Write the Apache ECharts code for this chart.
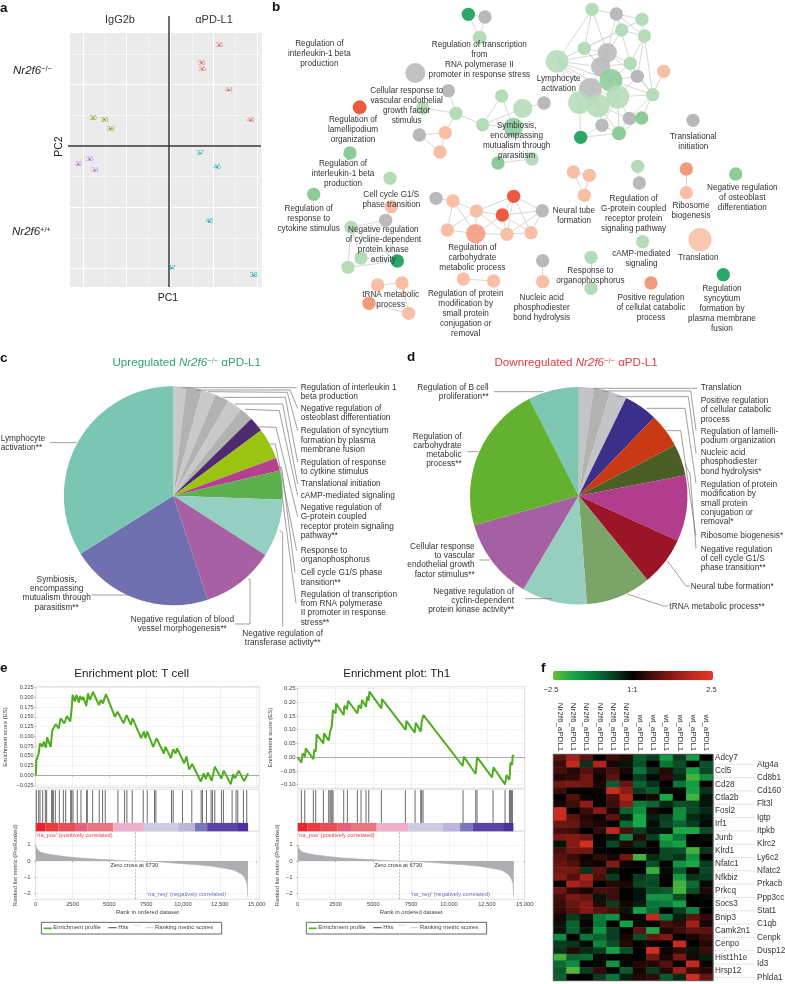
<!DOCTYPE html>
<html><head><meta charset="utf-8">
<style>html,body{margin:0;padding:0;background:#fff}#c{width:785px;height:984px}</style>
<script src="https://cdn.jsdelivr.net/npm/echarts@6/dist/echarts.min.js"></script>
</head><body><div id="c"></div>
<script>
const FONT='"Liberation Sans",Arial,sans-serif';
// ---------- panel a: PCA ----------
const pcaRed=[[1.13,1.64,36],[.72,1.36,36],[.74,1.25,36],[1.35,.91,44],[1.85,.42,46]];
const pcaGreen=[[-1.77,.45,36],[-1.51,.43,30],[-1.37,.28,39]];
const pcaPurple=[[-1.85,-.22,36],[-2.11,-.30,36],[-1.73,-.40,34]];
const pcaCyan=[[.69,-.12,37],[1.08,-.34,46],[.90,-1.23,46],[.04,-1.99,47],[1.92,-2.11,38]];
const pc1Major=[-2,-1,0,1,2], pc1Minor=[-1.5,-.5,.5,1.5];
const pc2Major=[1,0,-1,-2], pc2Minor=[1.5,.5,-.5,-1.5];
// ---------- panel b: network ----------
const nodeColors={G:'#2aa866',g:'#b5dcb9',m:'#8bcc97',y:'#b9b9bb',o:'#f9bfa6',O:'#f49a7c',R:'#ec5b3f'};
const nodes=[[595,43,40,'G'],[645,51,40,'y'],[629,113,42,'g'],[966,28,40,'g'],[1039,42,40,'y'],[1116,58,40,'g'],[1055,90,40,'g'],[1123,108,40,'g'],[943,145,40,'g'],[1012,158,58,'y'],[861,184,68,'g'],[1081,190,40,'g'],[992,200,58,'y'],[1023,241,68,'m'],[1102,229,40,'y'],[1181,214,40,'o'],[961,268,68,'y'],[1148,284,40,'g'],[1043,291,70,'g'],[928,308,68,'g'],[984,317,70,'g'],[1078,355,40,'y'],[1115,354,40,'m'],[996,376,40,'y'],[932,412,40,'G'],[1047,400,42,'m'],
[436,219,60,'y'],[535,272,40,'y'],[458,324,40,'g'],[558,340,40,'g'],[695,288,40,'g'],[758,325,58,'g'],[822,309,40,'y'],[638,374,40,'g'],[730,382,58,'m'],[526,398,40,'o'],[448,405,40,'y'],[510,456,40,'o'],[684,489,40,'m'],[786,477,40,'g'],
[269,322,42,'R'],[240,459,40,'m'],[360,535,40,'g'],[131,583,40,'m'],[364,620,40,'o'],[347,661,40,'y'],[243,682,40,'g'],[273,774,40,'g'],[234,802,40,'g'],[382,783,40,'G'],
[498,595,40,'y'],[549,603,40,'o'],[619,633,40,'o'],[731,589,40,'R'],[697,645,40,'R'],[817,632,40,'y'],[532,690,40,'o'],[617,701,58,'O'],[711,703,40,'o'],[783,698,40,'o'],
[910,516,40,'o'],[958,526,40,'o'],[943,586,40,'o'],[1103,499,40,'g'],[1108,549,40,'y'],[1249,507,40,'O'],[1249,578,40,'o'],[1397,522,40,'m'],[1269,361,40,'y'],[1118,725,40,'g'],[1290,719,70,'o'],[1360,824,40,'G'],[1143,849,40,'O'],[963,772,40,'g'],[963,865,40,'g'],[818,782,40,'y'],[818,845,40,'o'],[580,837,40,'o'],[671,843,40,'o'],[323,855,40,'o'],[396,849,40,'o'],[297,910,40,'O'],[416,940,40,'o']];
const links=[[0,1],[1,2],[0,2],[3,4],[3,8],[3,10],[3,9],[4,5],[4,6],[4,7],[4,9],[4,11],[5,7],[5,6],[6,7],[6,9],[6,8],[7,11],[7,14],[7,17],[8,10],[8,9],[8,12],[8,6],[8,13],[9,10],[9,12],[9,13],[9,11],[9,14],[10,12],[10,13],[10,16],[10,19],[10,20],[10,18],[11,13],[11,14],[11,12],[11,17],[12,13],[12,16],[12,18],[13,14],[13,17],[13,18],[14,17],[14,18],[15,17],[16,18],[16,19],[16,20],[17,18],[17,21],[17,22],[18,20],[18,21],[18,25],[18,23],[19,24],[19,20],[20,23],[20,21],[20,25],[21,22],[21,25],[23,25],[24,25],[24,23],[22,25],
[27,29],[28,29],[29,33],[30,33],[30,34],[31,33],[31,34],[31,32],[33,34],[34,38],[34,39],[38,39],[29,35],[35,36],[36,37],[35,37],
[44,45],[45,46],[45,49],[46,47],[46,48],[47,48],[47,49],[48,49],[45,47],[46,49],
[50,51],[51,52],[51,56],[51,57],[52,53],[52,54],[52,56],[52,57],[52,58],[53,54],[53,55],[53,58],[53,59],[54,55],[54,57],[54,58],[54,59],[55,58],[55,59],[56,57],[57,58],[58,59],
[60,61],[60,62],[61,62],[63,64],[65,66],[73,74],[75,76],[77,78],[79,80],[79,81],[80,82],[81,82]];
const netLabels=[["Regulation of\ninterleukin-1 beta\nproduction",148,132],["Regulation of transcription\nfrom\nRNA polymerase II\npromoter in response stress",628,133],["Cellular response to\nvascular endothelial\ngrowth factor\nstimulus",410,272],["Lymphocyte\nactivation",866,235],["Regulation of\nlamellipodium\norganization",249,360],["Symbiosis,\nencompassing\nmutualism through\nparasitism",740,378],["Translational\ninitiation",1270,410],["Regulation of\ninterleukin-1 beta\nproduction",219,492],["Regulation of\nresponse to\ncytokine stimulus",116,625],["Cell cycle G1/S\nphase transition",364,585],["Negative regulation\nof cycline-dependent\nprotein kinase\nactivity",340,689],["Regulation of\ncarbohydrate\nmetabolic process",607,744],["tRNA metabolic\nprocess",362,883],["Regulation of protein\nmodification by\nsmall protein\nconjugation or\nremoval",587,881],["Nucleic acid\nphosphodiester\nbond hydrolysis",815,894],["Neural tube\nformation",912,633],["Regulation of\nG-protein coupled\nreceptor protein\nsignaling pathway",1091,597],["Ribosome\nbiogenesis",1263,618],["Negative regulation\nof osteoblast\ndifferentiation",1417,563],["cAMP-mediated\nsignaling",1114,760],["Translation",1285,773],["Response to\norganophosphorus",961,813],["Positive regulation\nof cellulat catabolic\nprocess",1143,893],["Regulation\nsyncytium\nformation by\nplasma membrane\nfusion",1356,866]];
// ---------- panels c, d: pies ----------
const upNames=["Regulation of interleukin 1 beta production","Negative regulation of osteoblast differentiation","Regulation of syncytium formation","Regulation of response to cytkine stimulus","Translational initiation","cAMP-mediated signaling","Negative regulation of G-protein coupled receptor","Response to organophosphorus","Cell cycle G1/S phase transition","Regulation of transcription","Negative regulation of transferase activity","Negative regulation of blood vessel morphogenesis","Symbiosis","Lymphocyte activation"];
const upValues=[1.9,2.3,2.1,2.1,2.2,2.0,2.2,4.6,1.9,4.3,8.5,10.8,21.2,33.9];
const upColors=['#c9c9c9','#b2b2b2','#c9c9c9','#b2b2b2','#c9c9c9','#b2b2b2','#4e2a6e','#9bc412','#b73f90','#5cb04e','#94cfc1','#a660a3','#7070b0','#7bc6b2'];
const downNames=["Translation","Positive regulation of cellular catabolic process","Regulation of lamellipodium organization","Nucleic acid phosphodiester bond hydrolysis","Regulation of protein modification","Ribosome biogenesis","Negative regulation of cell cycle G1/S","Neural tube formation","tRNA metabolic process","Negative regulation of cyclin-dependent protein kinase","Cellular response to VEGF stimulus","Regulation of carbohydrate metabolic process","Regulation of B cell proliferation"];
const downValues=[2.2,2.5,2.5,5.0,5.1,4.7,9.8,7.3,9.7,9.7,12.1,21.9,7.5];
const downColors=['#c4c4c8','#b2b2b0','#c2c4c8','#3b2f8a','#c93a14','#4a5e25','#b23d8c','#9b1427','#7ba468','#96cfc0','#a460a3','#63b22f','#7cc6b2'];
const upLabels=[["Regulation of interleukin 1\nbeta production",902,143,'left'],["Negative regulation of\nosteoblast differentiation",902,205,'left'],["Regulation of syncytium\nformation by plasma\nmembrane fusion",902,273,'left'],["Regulation of response\nto cytkine stimulus",902,368,'left'],["Translational initiation",902,432,'left'],["cAMP-mediated signaling",902,467,'left'],["Negative regulation of\nG-protein coupled\nreceptor protein signaling\npathway**",902,503,'left'],["Response to\norganophosphorus",902,632,'left'],["Cell cycle G1/S phase\ntransition**",902,699,'left'],["Regulation of transcription\nfrom RNA polymerase\nII promoter in response\nstress**",902,763,'left'],["Negative regulation of\ntransferase activity**",848,881,'center'],["Negative regulation of blood\nvessel morphogenesis**",547,839,'center'],["Symbiosis,\nencompassing\nmutualism through\nparasitism**",170,718,'center'],["Lymphocyte\nactivation**",2,295,'left']];
const upLeaders=[[[545,143],[890,143]],[[590,150],[870,150],[893,205]],[[625,155],[862,157],[893,272]],[[668,172],[856,172],[893,367]],[[705,192],[848,192],[893,432]],[[735,208],[838,212],[893,467]],[[770,260],[828,262],[893,530]],[[810,312],[826,312],[890,632]],[[835,382],[845,382],[885,698]],[[848,480],[888,790]],[[838,570],[848,578],[848,860]],[[745,718],[750,718],[750,852],[705,852]],[[388,765],[275,765]],[[230,308],[150,308]]];
const downLabels=[["Translation",932,143,'left'],["Positive regulation\nof cellular catabolic\nprocess",932,183,'left'],["Regulation of lamelli-\npodium organization",932,274,'left'],["Nucleic acid\nphosphodiester\nbond hydrolysis*",932,339,'left'],["Regulation of protein\nmodification by\nsmall protein\nconjugation or\nremoval*",932,435,'left'],["Ribosome biogenesis*",932,587,'left'],["Negative regulation\nof cell cycle G1/S\nphase transition**",932,628,'left'],["Neural tube formation*",902,741,'left'],["tRNA metabolic process**",838,801,'left'],["Negative regulation of\ncyclin-dependent\nprotein kinase activity**",372,754,'right'],["Cellular response\nto vascular\nendothelial growth\nfactor stimulus**",254,620,'right'],["Regulation of\ncarbohydrate\nmetabolic\nprocess**",215,289,'right'],["Regulation of B cell\nproliferation**",296,142,'right']];
const downLeaders=[[[610,145],[922,145]],[[640,153],[902,153],[918,270]],[[680,170],[895,170],[918,340]],[[770,205],[885,205],[918,430]],[[830,272],[872,272],[918,590]],[[885,372],[900,402],[918,625]],[[830,660],[888,738],[900,738]],[[712,762],[820,798],[835,798]],[[485,776],[405,776]],[[300,660],[268,660]],[[265,335],[232,335]],[[460,155],[312,155]]];
// ---------- panel e: GSEA ----------
const esRankT=[0,45,113,203,294,452,542,701,768,1017,1130,1243,1356,1559,1695,1944,2124,2350,2441,2509,2667,2757,2938,3006,3164,3232,3435,3548,3684,3887,4294,4430,4565,4769,5379,5560,5966,6170,6464,6577,7164,7345,7458,7571,7978,8204,8701,8814,9176,9334,9492,9605,10080,10238,10419,10622,11210,11413,11549,11684,11955,12159,12611,12769,13244,13402,13537,13786,14148,14419];
const esT=[0,.039,.046,.056,.082,.073,.086,.071,.097,.073,.116,.123,.131,.120,.146,.133,.152,.138,.171,.206,.189,.206,.186,.203,.193,.201,.177,.210,.193,.214,.180,.193,.184,.208,.150,.163,.133,.154,.129,.146,.095,.112,.095,.112,.073,.095,.056,.073,.044,.067,.056,.069,.031,.048,.015,.029,-.016,.005,-.010,.007,-.014,.022,-.008,.012,-.023,.003,-.008,.012,-.015,.005];
const esRankTh=[0,242,330,485,529,1035,1102,1190,1256,1696,1740,2049,2137,2247,2335,2511,2533,3040,3084,3260,3327,3943,4032,4186,4252,4516,4582,4692,4736,5530,5574,7137,7181,7733,7799,8129,8195,8305,10905,10971,11764,11852,12843,12932,13703,13791,13989,14055,14165,14209,14275];
const esTh=[0,-.020,.014,.002,.032,-.007,.028,.020,.083,.050,.087,.060,.093,.111,.171,.159,.195,.153,.187,.174,.205,.159,.189,.177,.208,.183,.220,.205,.238,.177,.211,.099,.132,.089,.125,.093,.129,.153,-.032,.002,-.061,0,-.073,-.037,-.099,-.065,-.083,-.020,-.028,.008,.002];
const hitsT=[45,203,294,475,655,746,1085,1130,1198,1333,1605,1876,2034,2373,2441,2531,2825,3074,3458,3503,3864,4316,4542,4723,5582,6034,6192,6554,7300,7571,8068,8159,9221,9334,9966,10599,11232,11322,11593,11910,11999,12159,12611,12747,13335,13606,13719,14103,14329];
const hitsTh=[242,463,1035,1190,1696,2049,2137,2203,2269,2335,3040,3282,3943,4186,4516,4692,5530,7116,7755,8129,8195,8283,10927,11764,11852,12909,13703,13989,14055,14121,14187];
const bandColors=['#e8252f','#ec3c42','#e84d55','#e5607a','#e8757f','#efafcb','#cfc9e4','#bdb6da','#7a76bc','#5b44a6','#4a30a0'];
const bandEdgesT=[0,678,1537,2667,3503,5266,7345,9673,10803,11639,13673,14419];
const bandEdgesTh=[0,661,1476,2644,3525,5221,7314,9605,10729,11544,13571,14253];
const metricRankT=[0,60,150,300,500,1000,2000,3000,4000,5000,6000,6730,8000,9000,10000,11000,12000,13000,13500,14000,14200,14350,14400,14419];
const metricRankTh=[0,60,150,300,500,1000,2000,3000,4000,5000,6000,6730,8000,9000,10000,11000,12000,13000,13500,13900,14100,14230,14270,14285];
const metric=[1.0,.82,.68,.56,.50,.40,.27,.18,.12,.07,.02,0,-.04,-.10,-.17,-.24,-.33,-.48,-.58,-.82,-1.05,-1.4,-2.2,-2.25];
const xTicksE=[0,2500,5000,7500,10000,12500,15000];
const yTicksEsT=[-.025,0,.025,.05,.075,.1,.125,.15,.175,.2,.225];
const yTicksEsTh=[-.1,-.05,0,.05,.1,.15,.2,.25];
const yTicksMetric=[-2,-1,0,1];
// ---------- panel f: heatmap ----------
const sampleNames=["Nr2f6_aPDL1","Nr2f6_aPDL1","Nr2f6_aPDL1","Nr2f6_aPDL1","Nr2f6_aPDL1","Nr2f6_aPDL1","wt_aPDL1","wt_aPDL1","wt_aPDL1","wt_aPDL1","wt_aPDL1","wt_aPDL1"];
const geneNames=["Adcy7","Atg4a","Ccl5","Cd8b1","Cd28","Cd160","Ctla2b","Flt3l","Fosl2","Igtp","Irf1","Itpkb","Junb","Klrc2","Klrd1","Ly6c2","Nfatc1","Nfatc2","Nfkbiz","Prkacb","Prkcq","Ppp3cc","Socs3","Stat1","Bnip3","C1qb","Camk2n1","Cenpk","Cenpo","Dusp12","Hist1h1e","Id3","Hrsp12","Phlda1"];
const heat=[[.8,1.5,.8,0,.5,.3,-.9,-.6,-1.7,-.6,-1.7,0],[.5,1.9,-.5,1.7,.2,-.2,-.8,0,-1.2,-.8,0,-.8],[.6,.3,.7,.3,.6,.2,-1.2,-.5,.3,-.6,-1.8,-.7],[.3,.4,1.0,.1,.8,0,-.6,-.1,.4,-.4,-2.2,-1.5],[1.0,1.1,1.0,.2,-.9,.9,-1.0,-.5,0,-1.2,-1.7,.1],[.5,0,0,.1,2,1.3,-.6,-.9,-.1,-.1,-1.8,-.5],[0,.7,.1,0,.6,1.7,0,.2,-1.9,0,-2.2,-.2],[.2,.5,1.3,0,.5,1.3,-1.3,-1.0,-.4,-.8,-.7,-.2],[2.1,0,.5,1.2,.2,-1.0,-1.5,.2,0,-1.5,-.7,-.4],[2.0,.8,.3,.1,.8,-.3,-1.9,-.3,-.6,-1.5,-.4,-.2],[1.0,.9,.4,.2,0,-1.1,-1.9,-.1,-.7,-1.0,-.6,-.1],[.6,.5,0,.4,1.8,.6,-.6,-.2,-.2,-1.9,-1.9,-.7],[1.1,1.2,1.0,0,-.2,-1.4,.3,-.6,-1.9,-1.2,0,-.1],[-.2,1.2,2.1,0,-.7,.3,-.5,0,-1.5,-1.8,-.1,0],[.6,1.0,1.0,0,0,0,0,0,-.7,-.8,-2.2,-.5],[.8,.5,.1,.4,.2,1.0,-2.2,-.4,-.7,-.5,-1.6,0],[.9,.7,.2,.1,1.2,.1,0,-.8,0,-1.6,-1.9,-.6],[1.0,1.0,-.5,.8,-.2,0,0,-2.1,-.1,-.9,.1,-.7],[1.2,.7,1.6,.6,-.6,0,-.6,-.8,0,-1.7,-.5,-.6],[0,1.6,1.3,0,.3,.2,-.7,-.7,0,-2.2,-1.1,-.1],[1.0,.4,.2,.6,.5,0,-.2,-.8,-.9,-2.2,-.8,.3],[.6,1.1,.9,-.2,.5,0,-.2,-1.6,-1.6,-.8,0,-.1],[.5,.9,1.2,.3,-.6,.2,-.3,-1.2,-1.3,-1.8,0,0],[.4,.7,1.2,.8,.6,-.2,-1.8,-1.1,0,-.6,-1.4,0],[.2,-.6,-.2,-1.3,-1.6,.1,.1,1.9,-1.2,-.3,.8,.4],[-.2,-1.0,.1,-1.2,0,-1.8,-.1,0,.6,.4,1.5,.2],[-.2,-1.0,-.2,-1.6,-.6,0,.8,-1.9,.2,.5,.8,.8],[-1.5,0,-1.2,-1.0,-.6,.2,-.8,.9,1.1,0,.2,.5],[-.6,-.5,-.1,-1.4,-.8,.3,0,.1,0,2.0,0,.3],[-.5,.3,-.4,-.6,-1.8,-.8,0,2.1,.1,.4,-.2,.5],[-2.2,-1.0,-1.1,-.1,0,.1,0,1.0,.2,1.1,.2,-.3],[-1.1,-1.5,0,-.1,-1.6,-.1,.3,.3,.7,0,1.9,.1],[-.9,-2.3,-.6,.4,0,-.9,.2,-.6,.3,1.4,.5,.3],[-1.0,0,0,-.6,-1.2,-.3,.3,.4,-.9,-.4,2.1,.9]];

// ---------- helpers ----------
const g=[];
function txt(text,x,y,o={}){const fs=o.fs||8,lh=o.lh||fs*1.17;
  g.push({type:'text',z:100,silent:true,rotation:o.rot||0,x:x,y:y,style:{text,x:0,y:0,font:`${o.it?'italic ':''}${o.b?'bold ':''}${fs}px ${FONT}`,fill:o.c||'#333',align:o.al||'left',verticalAlign:o.va||'top',lineHeight:lh,backgroundColor:o.bg,rich:o.rich}});}
function poly(pts,c,w,dash){g.push({type:'polyline',z:90,silent:true,shape:{points:pts},style:{stroke:c,lineWidth:w,fill:null,lineDash:dash}});}
function blocks(list,ox,oy,fs,lh){list.forEach(([t,x,y,al])=>txt(t,ox+x/3,oy+y/3-lh/2,{fs,lh,al:al||'center'}));}
function leaders(list,ox,oy){list.forEach(l=>poly(l.map(p=>[ox+p[0]/3,oy+p[1]/3]),'#777',.7));}
function rt(label,c,fs){return {text:`{a|${label[0]}}{i|Nr2f6}{s|${label[1]}}{a|${label[2]}}`,rich:{a:{font:`${fs}px ${FONT}`,fill:c,color:c},i:{font:`italic ${fs}px ${FONT}`,fill:c,color:c},s:{font:`${fs*.65}px ${FONT}`,fill:c,color:c,verticalAlign:'top'}}};}
function titled(label,x,y,c,fs){const r=rt(label,c,fs);g.push({type:'text',z:100,silent:true,x,y,style:{text:r.text,rich:r.rich,align:'left',verticalAlign:'middle',font:`${fs}px ${FONT}`,fill:c}});}

const grids=[],xAxes=[],yAxes=[],series=[];
function addGrid(gr,x,y){grids.push(Object.assign({outerBoundsMode:'none',containLabel:false},gr));const i=grids.length-1;xAxes.push(Object.assign({gridIndex:i},x));yAxes.push(Object.assign({gridIndex:i},y));return i;}
const hid={show:false};
const noLine=(v)=>({type:'value',min:v[0],max:v[1],axisLine:hid,axisTick:hid,axisLabel:hid,splitLine:hid});

// ---------- a ----------
const iA=addGrid({left:70,top:33,width:191.5,height:254,show:true,backgroundColor:'#ebebeb',borderWidth:0},
 {type:'value',min:-2.3,max:2.1,axisLine:hid,splitLine:hid,axisLabel:hid,axisTick:{show:true,customValues:pc1Major,length:2,lineStyle:{color:'#888',width:.7}}},
 {type:'value',min:-2.3,max:1.843,axisLine:hid,splitLine:hid,axisLabel:hid,axisTick:{show:true,customValues:pc2Major,length:2,lineStyle:{color:'#888',width:.7}}});
const mk=(a,w)=>a.map(v=>({lineStyle:{color:'#fff',width:w,type:'solid'},...v}));
[[pcaRed,'#f0766d'],[pcaGreen,'#7cae00'],[pcaPurple,'#c77cff'],[pcaCyan,'#00b5c0']].forEach(([d,c],i)=>{
 const s={type:'scatter',xAxisIndex:iA,yAxisIndex:iA,data:d,symbol:'circle',symbolSize:1.8,itemStyle:{color:'#444'},z:5,silent:true,
  label:{show:true,position:'inside',formatter:p=>p.value[2],fontSize:7,fontFamily:FONT,color:c}};
 if(i==0)s.markLine={silent:true,symbol:'none',animation:false,z:1,label:hid,data:[
  ...mk(pc1Major.map(v=>({xAxis:v})),1),...mk(pc1Minor.map(v=>({xAxis:v})),.5),...mk(pc2Major.map(v=>({yAxis:v})),1),...mk(pc2Minor.map(v=>({yAxis:v})),.5)]};
 series.push(s);});
poly([[169,16],[169,287]],'#333',1.4);poly([[68,146],[261,146]],'#333',1.4);
txt('IgG2b',120,20,{fs:11,al:'center',va:'middle'});txt('αPD-L1',214,20,{fs:11,al:'center',va:'middle'});
titled(['','−/−',''],13,71,'#222',11.5);titled(['','+/+',''],12,232,'#222',11.5);
txt('PC2',58.7,146.5,{fs:10.5,al:'center',va:'middle',rot:Math.PI/2,c:'#222'});txt('PC1',168,298,{fs:10.5,al:'center',va:'middle',c:'#222'});

// ---------- b ----------
const iB=addGrid({left:270,top:0,width:515,height:340},noLine([0,1545]),Object.assign(noLine([0,1020]),{inverse:true}));
series.push({type:'graph',coordinateSystem:'cartesian2d',xAxisIndex:iB,yAxisIndex:iB,layout:'none',silent:true,z:3,
 data:nodes.map(n=>({value:[n[0],n[1]],symbolSize:n[2]/3,itemStyle:{color:nodeColors[n[3]],opacity:n[2]>50?.88:1}})),
 edges:links.map(l=>({source:l[0],target:l[1]})),lineStyle:{color:'#d2d2d2',width:.9,opacity:1},label:hid});
blocks(netLabels,270,0,8.2,10);

// ---------- c, d ----------
const pie=(names,vals,cols,cx,cy,r)=>series.push({type:'pie',center:[cx,cy],radius:[0,r],startAngle:90,clockwise:true,silent:true,label:hid,labelLine:hid,z:2,
 data:vals.map((v,i)=>({name:names[i],value:v,itemStyle:{color:cols[i]}}))});
pie(upNames,upValues,upColors,173.3,495.7,109.5);
pie(downNames,downValues,downColors,578.7,495.7,108.7);
blocks(upLabels,0,340,8.3,9.33);blocks(downLabels,390,340,8.3,9.2);
leaders(upLeaders,0,340);leaders(downLeaders,390,340);
titled(['Upregulated ','−/−',' αPD-L1'],112.5,363,'#2ba56c',11.6);
titled(['Downregulated ','−/−',' αPD-L1'],494.5,363,'#e23b3f',11.6);

// ---------- e ----------
function gsea(o){
 const lab={fontSize:5.6,fontFamily:FONT,color:'#444',margin:2};
 const dots={show:true,lineStyle:{color:'#dcdcdc',type:'dotted',width:.7}};
 const frame={show:true,borderColor:'#d8d8d8',borderWidth:.8,backgroundColor:'#fff'};
 const tick=(cv)=>({show:true,customValues:cv,length:1.5,lineStyle:{color:'#999',width:.6}});
 const xBase={type:'value',min:0,max:o.xMax,axisLine:hid,splitLine:dots,axisLabel:hid,axisTick:tick(xTicksE)};
 const i1=addGrid({left:o.left,top:686.7,width:o.w,height:o.esH,...frame},xBase,
  {type:'value',min:o.esMin,max:o.esMax,axisLine:hid,splitLine:dots,axisTick:tick(o.esTicks),name:'Enrichment score (ES)',nameLocation:'middle',nameRotate:90,nameGap:o.gapEs,nameTextStyle:{fontSize:5.9,fontFamily:FONT,color:'#444'},
   axisLabel:{...lab,customValues:o.esTicks,fontSize:o.esFs,formatter:v=>{const s=Math.abs(v).toFixed(o.esDec);return (v<0?'−':'')+s;}}});
 series.push({type:'line',xAxisIndex:i1,yAxisIndex:i1,data:o.rank.map((r,i)=>[r,o.es[i]]),showSymbol:false,symbol:'none',silent:true,z:6,lineStyle:{color:'#4fae1e',width:2},
  markLine:{silent:true,symbol:'none',animation:false,label:hid,lineStyle:{color:'#aaa',width:1.2,type:'solid'},data:[{yAxis:0}]}});
 const i2=addGrid({left:o.left,top:789.3,width:o.w,height:42,...frame},{type:'value',min:0,max:o.xMax,axisLine:hid,axisTick:hid,axisLabel:hid,splitLine:hid},noLine([0,1]));
 series.push({type:'custom',xAxisIndex:i2,yAxisIndex:i2,silent:true,z:5,data:o.hits.map(h=>[h]),encode:{x:0},renderItem:(p,api)=>{const a=api.coord([api.value(0),.2]),b=api.coord([api.value(0),.98]);return {type:'line',shape:{x1:a[0],y1:a[1],x2:b[0],y2:b[1]},style:{stroke:'#5a5a5a',lineWidth:.9}};}});
 series.push({type:'custom',xAxisIndex:i2,yAxisIndex:i2,silent:true,z:5,data:bandColors.map((c,i)=>[o.band[i],o.band[i+1],i]),encode:{x:[0,1]},renderItem:(p,api)=>{const a=api.coord([api.value(0),.2]),b=api.coord([api.value(1),0]);return {type:'rect',shape:{x:a[0],y:a[1],width:b[0]-a[0],height:b[1]-a[1]},style:{fill:bandColors[api.value(2)]}};}});
 const i3=addGrid({left:o.left,top:831.3,width:o.w,height:68,...frame},
  {type:'value',min:0,max:o.xMax,axisLine:hid,splitLine:dots,axisTick:tick(xTicksE),name:'Rank in ordered dataset',nameLocation:'middle',nameGap:10.5,nameTextStyle:{fontSize:5.9,fontFamily:FONT,color:'#444'},
   axisLabel:{...lab,fontSize:5.7,customValues:xTicksE,formatter:v=>v>=10000?String(v).replace(/(\d{3})$/,',$1'):String(v)}},
  {type:'value',min:-2.37,max:1.835,axisLine:hid,splitLine:dots,axisTick:tick(yTicksMetric),name:'Ranked list metric (PreRanked)',nameLocation:'middle',nameRotate:90,nameGap:o.gapM,nameTextStyle:{fontSize:5.9,fontFamily:FONT,color:'#444'},
   axisLabel:{...lab,fontSize:6,margin:5,customValues:yTicksMetric,formatter:v=>v<0?'−'+(-v):String(v)}});
 series.push({type:'line',xAxisIndex:i3,yAxisIndex:i3,data:o.mRank.map((r,i)=>[r,metric[i]]),showSymbol:false,symbol:'none',silent:true,z:4,lineStyle:{color:'#aeaeb2',width:.6},areaStyle:{color:'#aeaeb2',opacity:1,origin:0},
  markLine:{silent:true,symbol:'none',animation:false,label:hid,lineStyle:{color:'#999',width:.6,type:'dashed'},data:[{xAxis:6730}]}});
 const ox=o.ox,oy=650;
 txt(o.title,ox+o.titleX/3,oy+72/3,{fs:11.6,al:'center',va:'middle',c:'#222'});
 txt("'na_pos' (positively correlated)",o.left+.5,oy+555/3,{fs:5.7,va:'middle',c:'#e5454a'});
 txt("'na_neg' (negatively correlated)",ox+o.negX/3,oy+733/3,{fs:5.7,va:'middle',al:'center',c:'#6f6fc0'});
 txt('Zero cross at 6730',ox+o.zeroX/3,oy+647/3,{fs:5.7,va:'middle',al:'center',c:'#333',bg:'#fff'});
 g.push({type:'rect',z:90,silent:true,shape:{x:ox+124/3,y:oy+817/3,width:541/3,height:35/3},style:{fill:'#fff',stroke:'#555',lineWidth:.9}});
 poly([[ox+131/3,oy+835/3],[ox+155/3,oy+835/3]],'#4fae1e',1.6);
 poly([[ox+325/3,oy+833/3],[ox+350/3,oy+833/3]],'#666',1.2);
 poly([[ox+437/3,oy+833/3],[ox+460/3,oy+833/3]],'#ccc',1);
 poly([[ox+400/3,oy+826/3],[ox+424/3,oy+826/3]],'#ccc',.6);
 txt('Enrichment profile',ox+160/3,oy+833/3,{fs:5.9,va:'middle',c:'#444'});
 txt('Hits',ox+355/3,oy+833/3,{fs:5.9,va:'middle',c:'#444'});
 txt('Ranking metric scores',ox+465/3,oy+833/3,{fs:5.9,va:'middle',c:'#444'});
}
gsea({left:35.7,w:223.6,ox:0,xMax:15181,esH:100.6,esMin:-.0307,esMax:.227,esTicks:yTicksEsT,esDec:3,esFs:5.6,gapEs:27,gapM:17,rank:esRankT,es:esT,hits:hitsT,band:bandEdgesT,mRank:metricRankT,title:'Enrichment plot: T cell',titleX:395,negX:560,zeroX:403});
gsea({left:297.7,w:227,ox:265,xMax:15000,esH:101.6,esMin:-.113,esMax:.256,esTicks:yTicksEsTh,esDec:2,esFs:6,gapEs:24,gapM:17,rank:esRankTh,es:esTh,hits:hitsTh,band:bandEdgesTh,mRank:metricRankTh,title:'Enrichment plot: Th1',titleX:395,negX:556,zeroX:400});

// ---------- f ----------
const iF=addGrid({left:553.3,top:754.3,width:159.7,height:226.4,show:true,borderColor:'#555',borderWidth:1,z:8},
 {type:'category',position:'top',data:sampleNames,axisLine:hid,axisTick:hid,splitLine:hid,splitArea:hid,axisLabel:{interval:0,rotate:90,fontSize:8,fontFamily:FONT,color:'#333',margin:3}},
 {type:'category',position:'right',inverse:true,data:geneNames,axisLine:hid,axisTick:hid,splitLine:hid,splitArea:hid,axisLabel:{interval:0,margin:2,align:'left',fontSize:8.2,fontFamily:FONT,color:'#333',
   formatter:(v,i)=>i%2?`{g|}{t|${v}}`:`{t|${v}}`,rich:{g:{width:42,height:1},t:{fontSize:8.2,fontFamily:FONT,color:'#333'}}}});
const heatData=[];heat.forEach((r,y)=>r.forEach((v,x)=>heatData.push([x,y,v])));
series.push({type:'heatmap',xAxisIndex:iF,yAxisIndex:iF,data:heatData,silent:true,z:4,progressive:0,itemStyle:{borderWidth:0}});
const fSeries=series.length-1;
geneNames.forEach((n,i)=>{if(i%2){const y=754.3+226.4*(i+.5)/34;poly([[714.5,y],[754,y]],'#aaa',.6,[1.2,1.2]);}});
txt('−2.5',551,690,{fs:7.6,al:'center',va:'middle'});txt('1:1',632.5,690,{fs:7.6,al:'center',va:'middle'});txt('2.5',711.5,690,{fs:7.6,al:'center',va:'middle'});

// ---------- letters ----------
[['a',0,8],['b',272,7],['c',0,358],['d',407,357],['e',0,668],['f',541,668]].forEach(([t,x,y])=>txt(t,x,y,{fs:13.5,b:true,va:'middle',c:'#111'}));

const chart=echarts.init(document.getElementById('c'),null,{renderer:'canvas',width:785,height:984});
chart.setOption({animation:false,backgroundColor:'#fff',textStyle:{fontFamily:FONT},grid:grids,xAxis:xAxes,yAxis:yAxes,series,
 visualMap:{type:'continuous',seriesIndex:fSeries,min:-2.5,max:2.5,orient:'horizontal',left:538,top:655.7,itemWidth:9.6,itemHeight:160,text:null,showLabel:false,calculable:false,hoverLink:false,realtime:false,
  inRange:{color:['#6dbb35','#18a548','#0a7a3a','#0a4020','#000000','#4a100c','#8a1b15','#c02a1f','#e93325']},textStyle:{fontSize:0}},
 graphic:{elements:g}});
</script></body></html>
